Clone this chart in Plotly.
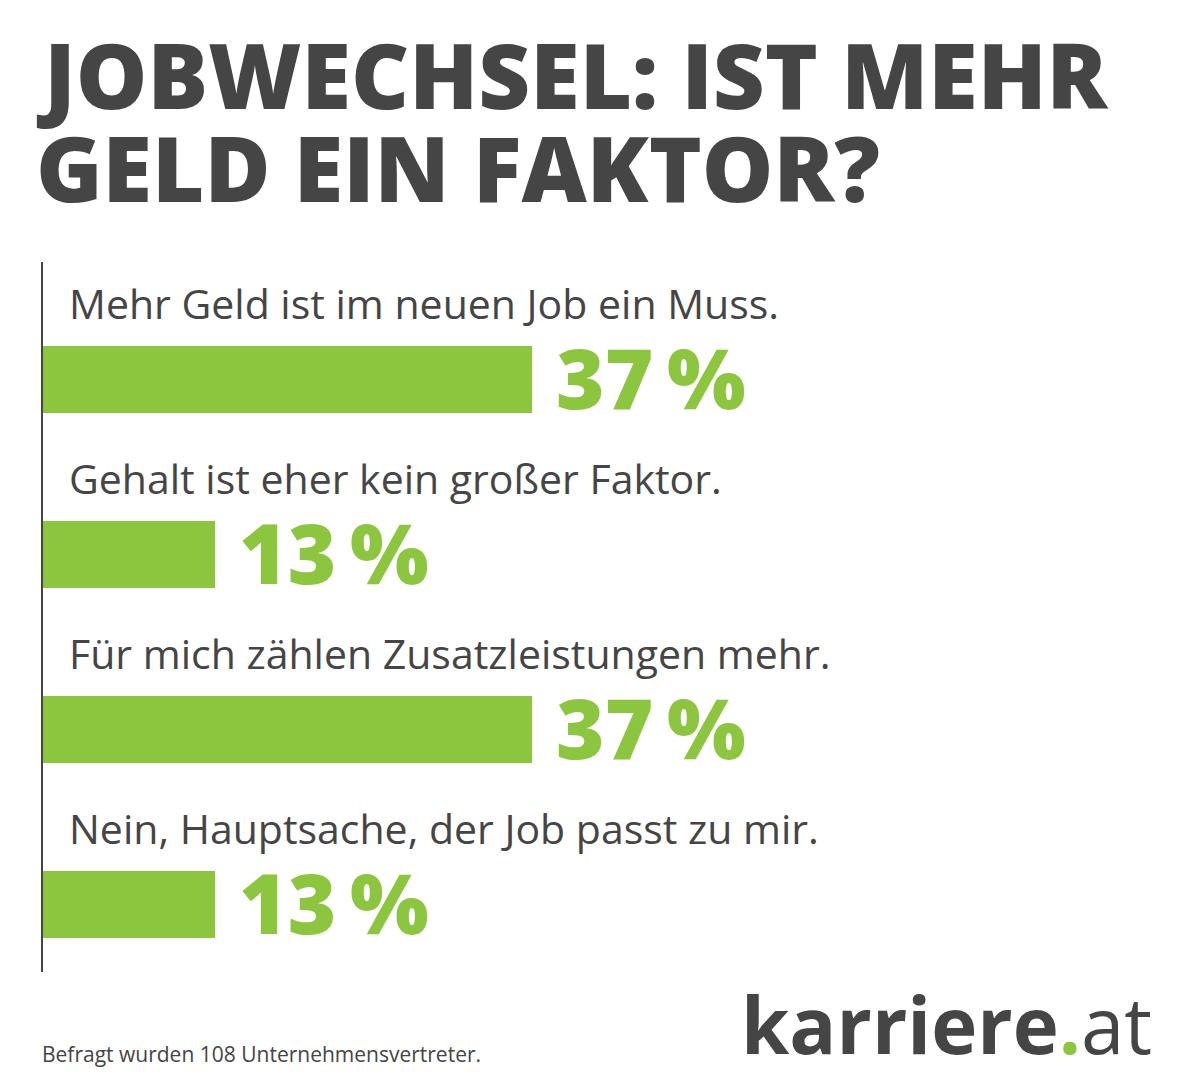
import plotly.graph_objects as go

# Umfragedaten
antworten = [
    "Mehr Geld ist im neuen Job ein Muss.",
    "Gehalt ist eher kein großer Faktor.",
    "Für mich zählen Zusatzleistungen mehr.",
    "Nein, Hauptsache, der Job passt zu mir.",
]
prozent = [37, 13, 37, 13]
positionen = [0, 1, 2, 3]

titel = ["JOBWECHSEL: IST MEHR", "GELD EIN FAKTOR?"]
fussnote = "Befragt wurden 108 Unternehmensvertreter."

gruen = "#8CC63F"
grau = "#454545"

# Seite hat 8px Rand im Browser -> hier ausgleichen
PLOT_TOP, PLOT_BOTTOM, PLOT_LEFT = 262, 972, 43


def py(pixel_y):
    # Bildschirm-y in paper-Koordinaten
    return (PLOT_BOTTOM - pixel_y) / (PLOT_BOTTOM - PLOT_TOP)


def px_(pixel_x):
    return (pixel_x - PLOT_LEFT) / (1200 - PLOT_LEFT)


fig = go.Figure()

fig.add_trace(go.Bar(
    x=prozent,
    y=positionen,
    orientation="h",
    width=0.383,
    marker=dict(color=gruen, line=dict(width=0)),
    hoverinfo="skip",
))

# Antworttexte ueber den Balken, Prozentwerte daneben
for pos, txt, val in zip(positionen, antworten, prozent):
    fig.add_annotation(
        x=0, y=pos - 0.43, xref="x", yref="y",
        text=txt, showarrow=False, xanchor="left", yanchor="middle",
        xshift=24, yshift=2,
        font=dict(family="Open Sans", size=41, color=grau),
    )
    fig.add_annotation(
        x=val, y=pos, xref="x", yref="y",
        text=f"{val}\u2009%", showarrow=False, xanchor="left", yanchor="middle",
        xshift=22, yshift=3,
        font=dict(family="Open Sans", size=83, color=gruen, weight=800),
    )

# Titel
for zeile, ypix in zip(titel, [74, 167]):
    fig.add_annotation(
        x=px_(34), y=py(ypix), xref="paper", yref="paper",
        text=zeile, showarrow=False, xanchor="left", yanchor="middle",
        font=dict(family="Open Sans", size=90, color=grau, weight=800),
    )

# Fussnote
fig.add_annotation(
    x=px_(40), y=py(1054), xref="paper", yref="paper",
    text=fussnote, showarrow=False, xanchor="left", yanchor="middle",
    font=dict(family="Open Sans", size=21, color=grau),
)

# Logo
fig.add_annotation(
    x=px_(1154), y=py(1024), xref="paper", yref="paper",
    text=f"<b>karriere</b><span style='color:{gruen}'><b>.</b></span>at",
    showarrow=False, xanchor="right", yanchor="middle",
    font=dict(family="Open Sans", size=78, color=grau),
)

fig.update_layout(
    width=1200, height=1080,
    margin=dict(l=PLOT_LEFT - 8, r=8, t=PLOT_TOP - 8, b=1080 - PLOT_BOTTOM + 8,
                autoexpand=False),
    paper_bgcolor="white", plot_bgcolor="white",
    showlegend=False,
    bargap=0,
    xaxis=dict(range=[0, 87.6], visible=False, fixedrange=True),
    yaxis=dict(range=[3.383, -0.674], showticklabels=False, showgrid=False,
               zeroline=False, showline=True, linecolor=grau, linewidth=2,
               ticks="", fixedrange=True),
)

fig.write_html("out.html")
